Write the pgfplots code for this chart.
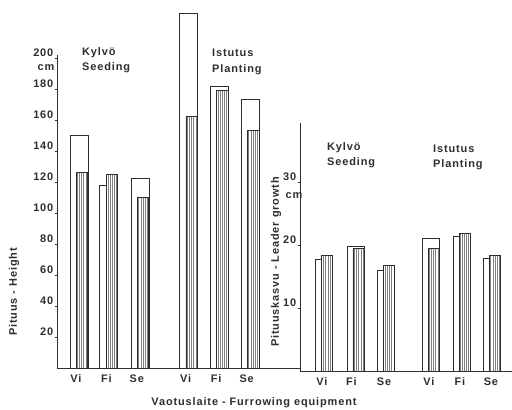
\documentclass[border=0pt]{standalone}
\usepackage{fontspec}
\setmainfont{Liberation Sans}[LetterSpace=8.0]
\usepackage{pgfplots}
\pgfplotsset{compat=1.18}
\usetikzlibrary{patterns.meta}
\definecolor{ink}{gray}{0.18}
\newcommand{\lf}{\bfseries\fontsize{11}{13}\selectfont}
\pgfplotsset{
  panel/.style={scale only axis, axis x line=bottom, axis y line=left,
    axis line style={-, line width=0.8bp, ink}, clip=false, ymin=0,
    tick style={ink, line width=0.6bp}, major tick length=2.5bp, tick align=outside,
    xtick style={draw=none},
    ticklabel style={font=\lf, text=ink},
    /pgf/number format/assume math mode=true,
    yticklabel style={anchor=south east, inner sep=1bp},
    xticklabels={Vi,Fi,Se,Vi,Fi,Se},
    xticklabel style={inner sep=1bp, yshift=-3bp}},
  wbar/.style={ybar, bar width=18bp, bar shift=0bp, draw=ink, fill=white, line width=0.8bp},
  hbar/.style={ybar, bar width=11.5bp, bar shift=3bp, draw=ink, fill=white, line width=0.8bp,
    postaction={pattern={Lines[angle=90,distance=2.2bp,line width=0.5bp]}, pattern color=black!50}},
}
\begin{document}
\begin{tikzpicture}
\useasboundingbox (0,0) rectangle (512bp,410bp);
% Left panel: Height
\begin{axis}[panel, at={(57bp,42bp)}, anchor=south west,
  width=243bp, height=313bp, xmin=-0.72, xmax=7.25, ymax=202,
  ytick={20,40,...,200}, xtick={-0.1,0.9,1.9,3.5,4.5,5.5}]
\addplot[wbar] coordinates {(0,150) (0.98,118) (2,122.5) (3.6,229) (4.6,182) (5.62,173.5)};
\addplot[hbar] coordinates {(0,126) (0.98,125) (2,110) (3.6,162.5) (4.6,179) (5.62,153.5)};
\end{axis}
% Right panel: Leader growth
\begin{axis}[panel, at={(300bp,39bp)}, anchor=south west,
  width=212bp, height=248bp, xmin=-0.76, xmax=6.08, ymax=39.4,
  ytick={10,20,30}, xtick={-0.05,0.9,1.95,3.4,4.4,5.4}]
\addplot[wbar, bar width=17bp] coordinates {(0,17.8) (1.03,19.8) (2,16.0) (3.47,21.1) (4.47,21.4) (5.44,17.9)};
\addplot[hbar, bar width=11bp] coordinates {(0,18.4) (1.03,19.5) (2,16.7) (3.47,19.5) (4.47,21.9) (5.44,18.4)};
\end{axis}
\begin{scope}[every node/.style={inner sep=0pt, text=ink, font=\lf}]
\node at (46bp,342bp) {cm};
\node at (294bp,214bp) {cm};
\node[anchor=west] at (82bp,357bp) {Kylvö};
\node[anchor=west] at (82bp,342bp) {Seeding};
\node[anchor=west] at (212bp,357bp) {Istutus};
\node[anchor=west] at (212bp,340bp) {Planting};
\node[anchor=west] at (327bp,262bp) {Kylvö};
\node[anchor=west] at (327bp,247bp) {Seeding};
\node[anchor=west] at (433bp,261bp) {Istutus};
\node[anchor=west] at (433bp,245bp) {Planting};
\node[rotate=90] at (14bp,118bp) {Pituus - Height};
\node[rotate=90] at (276bp,148bp) {Pituuskasvu - Leader growth};
\node at (254bp,7bp) {Vaotuslaite - Furrowing equipment};
\end{scope}
\end{tikzpicture}
\end{document}
